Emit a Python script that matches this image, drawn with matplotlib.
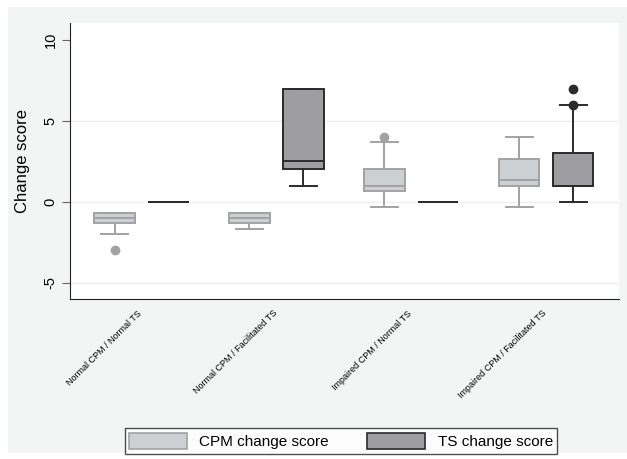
import matplotlib
matplotlib.use('Agg')
import matplotlib.pyplot as plt
from matplotlib.patches import Rectangle, Patch
from matplotlib.transforms import ScaledTranslation
import numpy as np

plt.rcParams['font.family'] = ['Liberation Sans', 'DejaVu Sans']

groups = ['Normal CPM / Normal TS', 'Normal CPM / Facilitated TS',
          'Impaired CPM / Normal TS', 'Impaired CPM / Facilitated TS']

# box stats: whisker low, q1, median, q3, whisker high
cpm_whislo = [-2.0, -1.67, -0.33, -0.33]
cpm_q1 = [-1.33, -1.33, 0.67, 1.0]
cpm_med = [-1.0, -1.0, 1.0, 1.33]
cpm_q3 = [-0.67, -0.67, 2.0, 2.67]
cpm_whishi = [-0.67, -0.67, 3.67, 4.0]
cpm_fliers = [[-3.0], [], [4.0], []]

ts_whislo = [0.0, 1.0, 0.0, 0.0]
ts_q1 = [0.0, 2.0, 0.0, 1.0]
ts_med = [0.0, 2.5, 0.0, 1.0]
ts_q3 = [0.0, 7.0, 0.0, 3.0]
ts_whishi = [0.0, 7.0, 0.0, 6.0]
ts_fliers = [[], [], [], [6.0, 7.0]]


def make_stats(lo, q1, med, q3, hi, fl):
    return [dict(whislo=a, q1=b, med=c, q3=d, whishi=e, fliers=f)
            for a, b, c, d, e, f in zip(lo, q1, med, q3, hi, fl)]


cpm_fill, cpm_edge = '#cdd0d3', '#a2a2a4'
ts_fill, ts_edge = '#9e9da2', '#2b2b2d'

fig = plt.figure(figsize=(6.27, 4.59), dpi=100)
fig.patch.set_facecolor('white')
bg = Rectangle((8 / 627, 0.013), 1, 0.972, transform=fig.transFigure,
               facecolor='#f3f5f5', edgecolor='none', zorder=-10)
fig.add_artist(bg)

ax = fig.add_axes([70 / 627, 1 - 299 / 459, 549 / 627, 276 / 459])
ax.set_facecolor('white')

pos = np.arange(len(groups))
for stats, off, fill, edge in [
        (make_stats(cpm_whislo, cpm_q1, cpm_med, cpm_q3, cpm_whishi, cpm_fliers), -0.2, cpm_fill, cpm_edge),
        (make_stats(ts_whislo, ts_q1, ts_med, ts_q3, ts_whishi, ts_fliers), 0.2, ts_fill, ts_edge)]:
    ax.bxp(stats, positions=pos + off, widths=0.3, capwidths=0.2,
           patch_artist=True, manage_ticks=False,
           boxprops=dict(facecolor=fill, edgecolor=edge, linewidth=1.4),
           medianprops=dict(color=edge, linewidth=1.4),
           whiskerprops=dict(color=edge, linewidth=1.4),
           capprops=dict(color=edge, linewidth=1.4),
           flierprops=dict(marker='o', markerfacecolor=edge, markeredgecolor=edge, markersize=6))

ax.set_xlim(-0.53, 3.54)
ax.set_ylim(-6, 11.05)
ax.set_yticks([-5, 0, 5, 10])
ax.set_yticklabels(['-5', '0', '5', '10'], rotation=90, va='center', fontsize=10.5)
ax.tick_params(axis='y', length=6, color='#666666', pad=3)
ax.set_xticks(pos)
ax.set_xticklabels(groups, rotation=45, ha='right', rotation_mode='anchor', fontsize=6.5)
ax.tick_params(axis='x', length=0, pad=7)
shift = ScaledTranslation(-4 / 100, 0, fig.dpi_scale_trans)
for lab in ax.get_xticklabels():
    lab.set_transform(lab.get_transform() + shift)
ax.yaxis.grid(True, color='#efefef', linewidth=1)
ax.yaxis.get_gridlines()[-1].set_visible(False)
ax.set_axisbelow(True)
for s in ['top', 'right']:
    ax.spines[s].set_visible(False)
for s in ['left', 'bottom']:
    ax.spines[s].set_color('#222222')
ax.set_ylabel('Change score', fontsize=12, labelpad=10)

handles = [Patch(facecolor=cpm_fill, edgecolor=cpm_edge, linewidth=1.2),
           Patch(facecolor=ts_fill, edgecolor=ts_edge, linewidth=1.2)]
leg = fig.legend(handles, ['CPM change score', 'TS change score'], ncol=2,
                 loc='center', bbox_to_anchor=(341 / 627, 1 - 441 / 459),
                 fontsize=11, frameon=True, fancybox=False, handlelength=3.8,
                 handleheight=1.3, columnspacing=2.5, borderpad=0.3)
leg.get_frame().set_edgecolor('#222222')
leg.get_frame().set_linewidth(1)

fig.savefig('out.png', dpi=100, facecolor=fig.get_facecolor())
